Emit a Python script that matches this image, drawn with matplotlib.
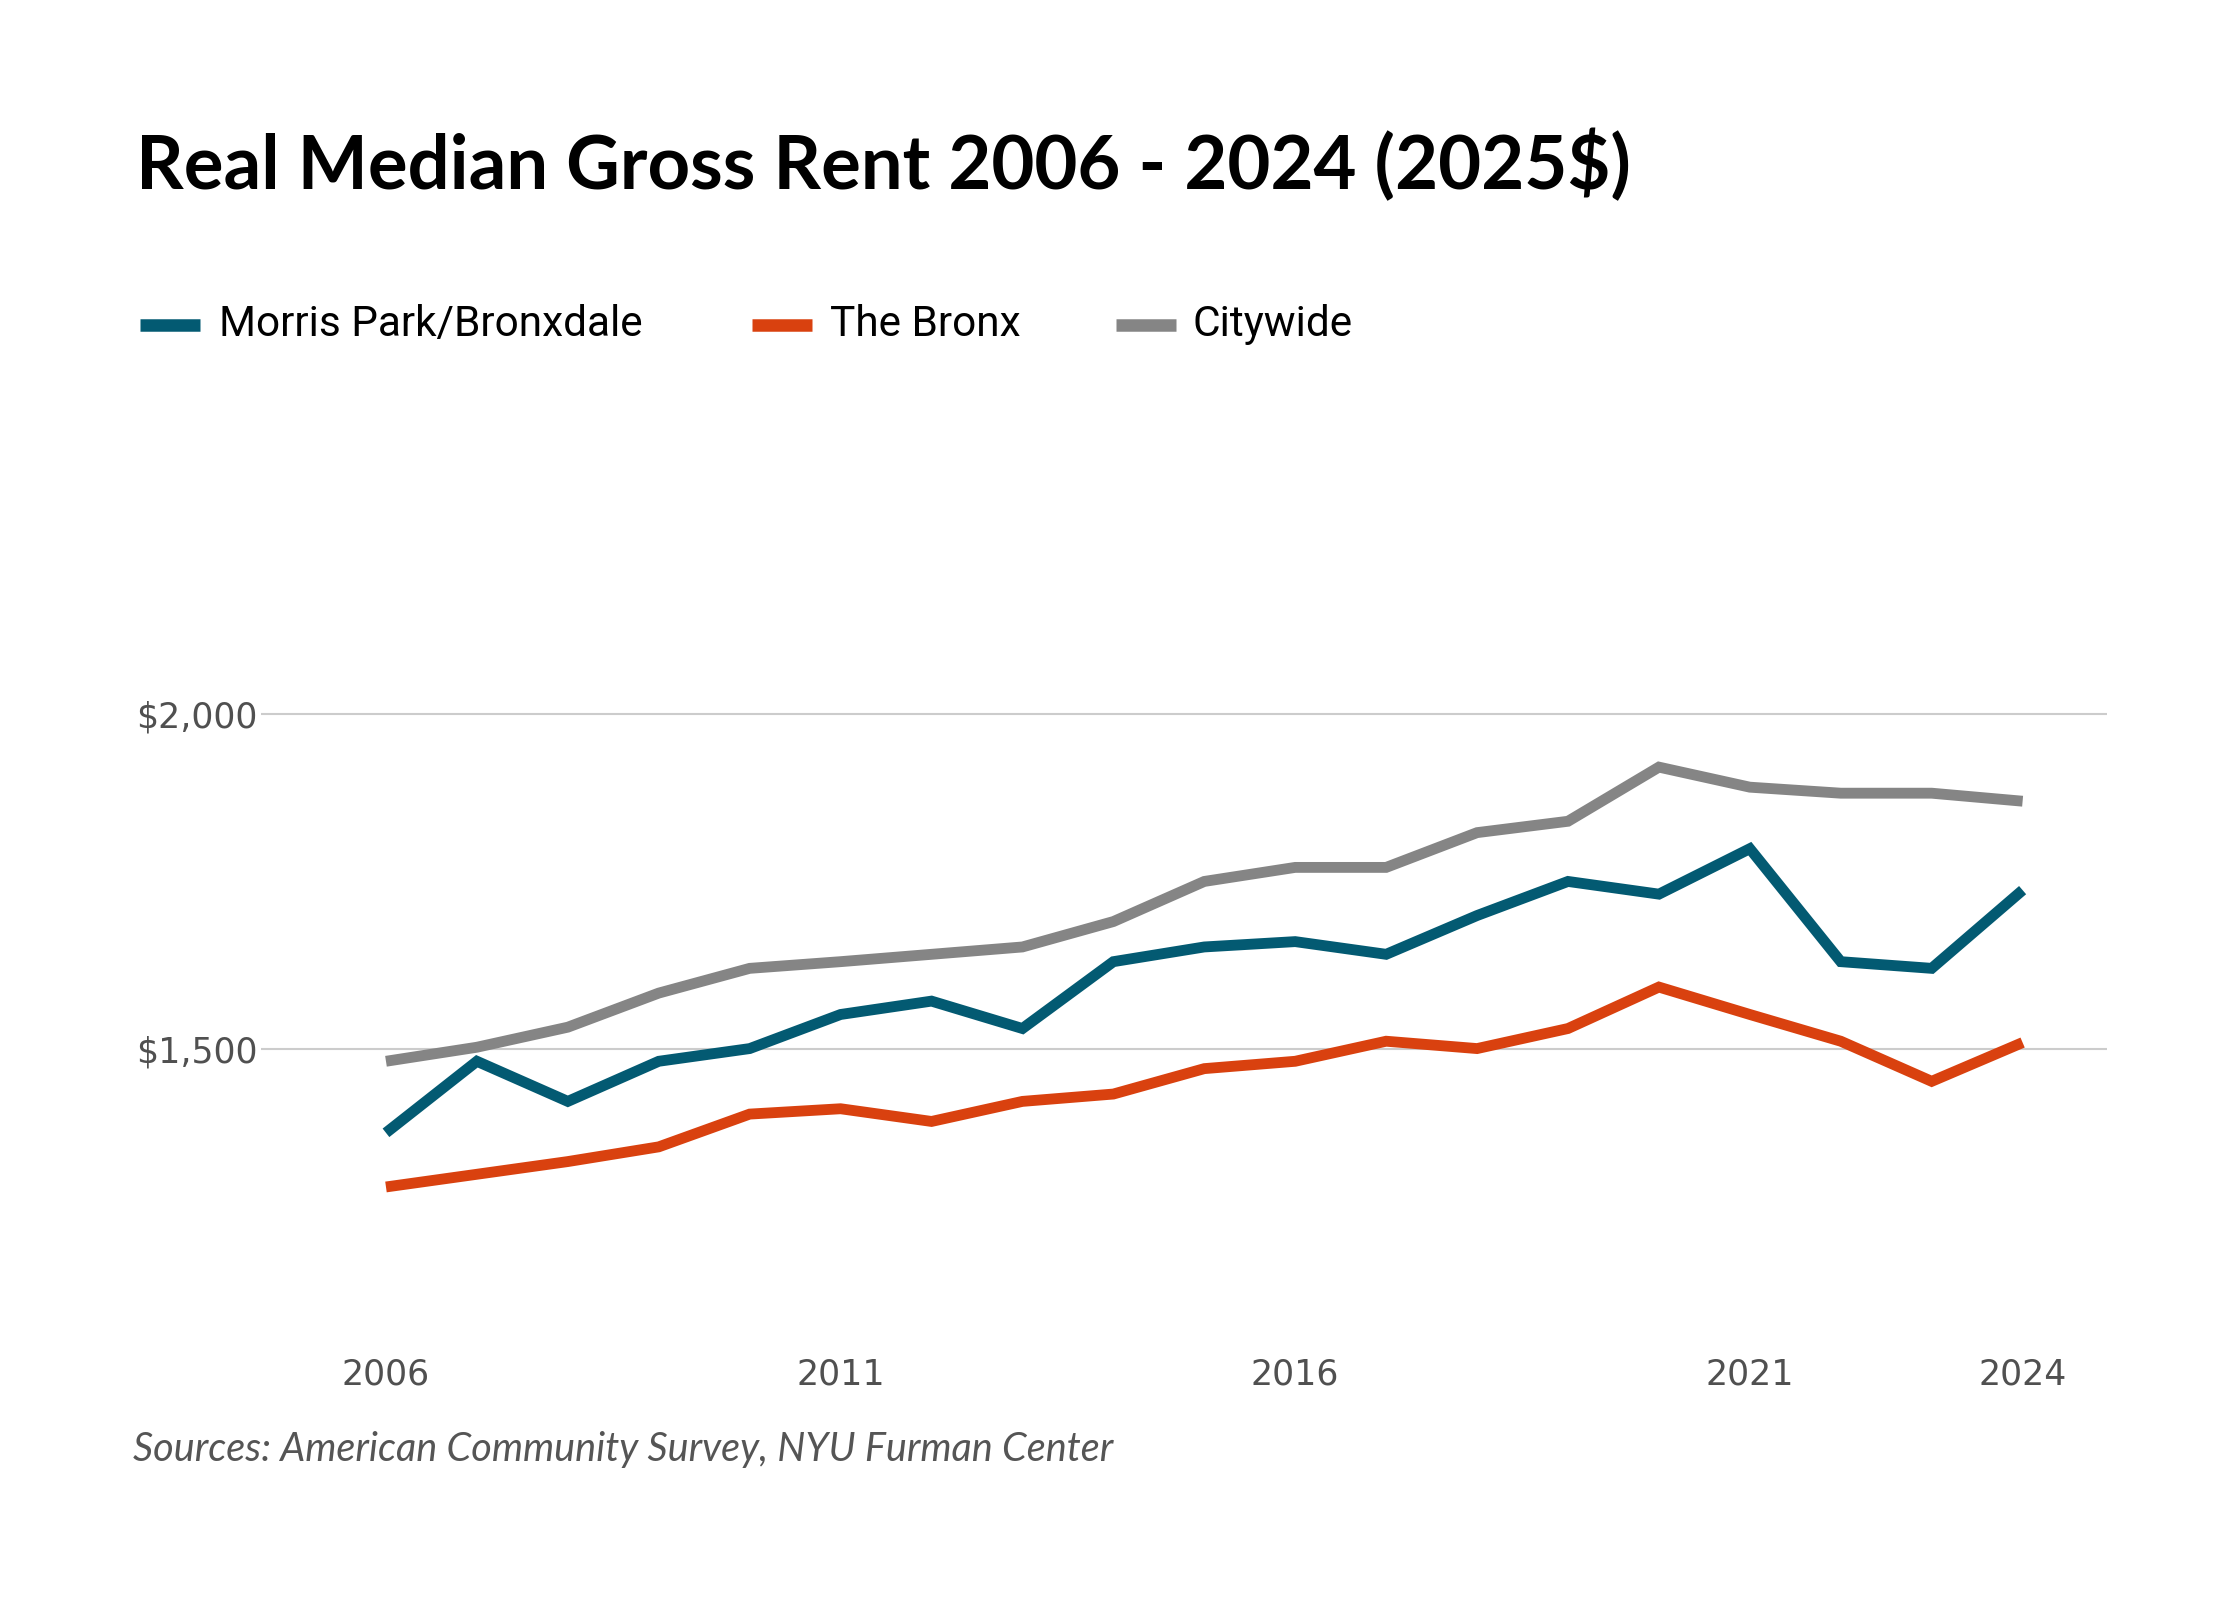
import matplotlib
matplotlib.use("Agg")
import matplotlib.pyplot as plt
from matplotlib.lines import Line2D

# --- data (real median gross rent, 2025$) ---
years = list(range(2006, 2025))
morris_park = [1374, 1481, 1421, 1481, 1500, 1551, 1571, 1530, 1630, 1652,
               1660, 1641, 1699, 1750, 1731, 1799, 1630, 1620, 1737]
bronx = [1293, 1312, 1331, 1353, 1402, 1410, 1391, 1421, 1432, 1470,
         1481, 1511, 1500, 1530, 1592, 1551, 1511, 1451, 1509]
citywide = [1481, 1502, 1532, 1583, 1620, 1630, 1641, 1652, 1690, 1750,
            1771, 1771, 1823, 1840, 1921, 1891, 1882, 1882, 1870]

series_names = ["Morris Park/Bronxdale", "The Bronx", "Citywide"]
series_colors = ["#035a72", "#d9410f", "#858585"]
x_ticks = [2006, 2011, 2016, 2021, 2024]
y_ticks = [1500, 2000]
y_ticklabels = ["$1,500", "$2,000"]

fig = plt.figure(figsize=(22.4, 16), dpi=100)
fig.patch.set_facecolor("white")

ax = fig.add_axes([0.1167, 0.1775, 0.824, 0.5432])
for vals, col in zip([citywide, morris_park, bronx],
                     [series_colors[2], series_colors[0], series_colors[1]]):
    ax.plot(years, vals, color=col, linewidth=7.8, solid_joinstyle="miter",
            solid_capstyle="butt")

ax.set_xlim(2004.63, 2024.93)
ax.set_ylim(1100, 2400)
ax.set_yticks(y_ticks)
ax.set_yticklabels(y_ticklabels, fontsize=25, color="#505050",
                   family="DejaVu Sans")
ax.set_xticks(x_ticks)
ax.set_xticklabels([str(y) for y in x_ticks], fontsize=25, color="#505050",
                   family="DejaVu Sans")
ax.tick_params(axis="both", length=0)
ax.tick_params(axis="y", pad=3)
ax.tick_params(axis="x", pad=30)
ax.grid(axis="y", color="#cccccc", linewidth=1.5)
ax.set_axisbelow(True)
for s in ax.spines.values():
    s.set_visible(False)

# title
fig.text(0.0606, 0.882, "Real Median Gross Rent 2006 - 2024 (2025$)",
         fontsize=53.5, fontweight="bold", family="Lato", color="black",
         va="baseline", ha="left")

# legend, drawn by hand
leg_y = 0.797
leg_pos = [(0.0625, 0.0976), (0.3355, 0.3705), (0.498, 0.5325)]
for name, col, (lx, tx) in zip(series_names, series_colors, leg_pos):
    fig.add_artist(Line2D([lx, lx + 0.027], [leg_y, leg_y], color=col,
                          linewidth=9, solid_capstyle="butt",
                          transform=fig.transFigure))
    fig.text(tx, leg_y, name, fontsize=30.5, family="Roboto", color="black",
             va="center", ha="left")

# source note
fig.text(0.0595, 0.094, "Sources: American Community Survey, NYU Furman Center",
         fontsize=28.5, style="italic", family="Lato", color="#555555",
         va="center", ha="left")

fig.savefig("out.png", dpi=100)
